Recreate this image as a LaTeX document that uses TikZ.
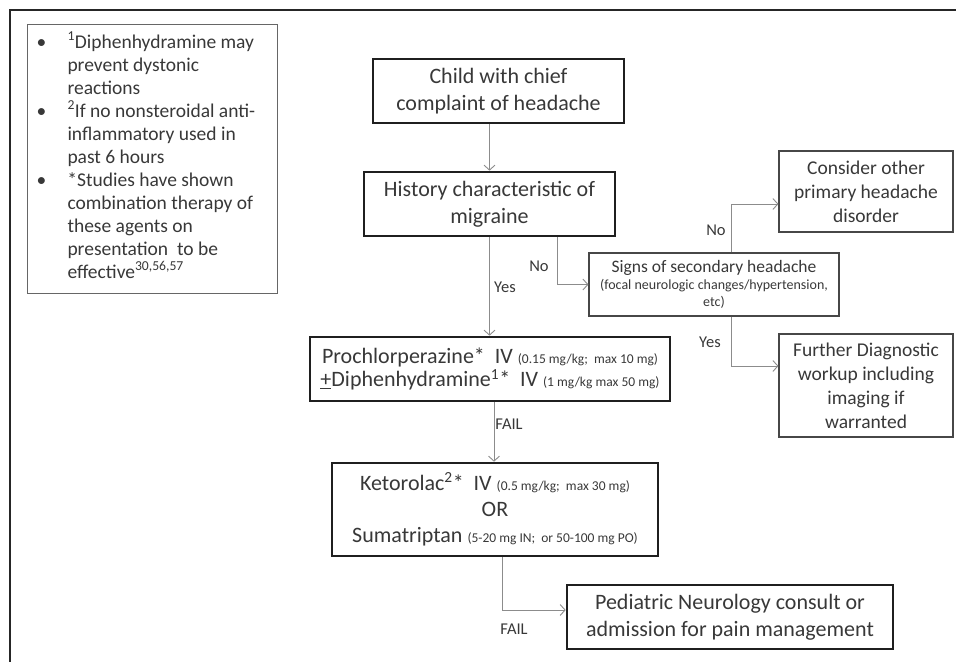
\documentclass[tikz,border=0pt]{standalone}
\usepackage{fontspec}
\setmainfont{Carlito}
\usetikzlibrary{arrows.meta}

\newcommand{\dose}[1]{{\fontsize{13.5}{15}\selectfont #1}}

\begin{document}
\begin{tikzpicture}
[x=1pt, y=-1pt, font=\fontsize{22}{27}\selectfont, text=black!78,
mainbox/.style={draw=black!88, line width=2.6pt, align=center, inner sep=0pt},
sidebox/.style={draw=black!72, line width=1.1pt, align=center, inner sep=0pt},
flow/.style={draw=black!45, line width=0.9pt, -{Straight Barb[length=5pt, width=11pt]}},
answer/.style={font=\fontsize{16.5}{18}\selectfont, inner sep=0pt}
]

\useasboundingbox (0,0) rectangle (956,662);

% frame
\draw[black!85, line width=1.6pt] (956,10) -- (10,10) -- (10,662);

% notes
\node[draw=black!60, line width=1pt, minimum width=250pt, minimum height=269pt,
  inner sep=0pt, font=\fontsize{19.5}{23}\selectfont] (notes) at (152,158.5)
{\begin{tabular}{@{}p{14pt}@{\hspace{17pt}}p{200pt}@{}}
\textbullet & \textsuperscript{1}Diphenhydramine may\newline prevent dystonic\newline reactions\\
\textbullet & \textsuperscript{2}If no nonsteroidal anti-\newline inflammatory used in\newline past 6 hours\\
\textbullet & *Studies have shown\newline combination therapy of\newline these agents on\newline presentation~ to be\newline effective\textsuperscript{30,56,57}\\
\end{tabular}};

% main flow
\node[mainbox, minimum width=251pt, minimum height=64pt] (child) at (498.5,91)
  {Child with chief\\complaint of headache};
\node[mainbox, minimum width=251pt, minimum height=64pt] (hist) at (489.5,204)
  {History characteristic of\\migraine};
\node[mainbox, minimum width=360pt, minimum height=64pt] (proc) at (490,369)
  {Prochlorperazine*~~IV \dose{(0.15 mg/kg;~~max 10 mg)}\\[-4pt]
   \underline{+}Diphenhydramine\textsuperscript{1}*~~IV \dose{(1 mg/kg max 50 mg)}};
\node[mainbox, minimum width=326pt, minimum height=93pt] (keto) at (495,509.5)
  {Ketorolac\textsuperscript{2}*~~IV \dose{(0.5 mg/kg;~~max 30 mg)}\\[-1pt]
   OR\\[-1pt]
   Sumatriptan \dose{(5-20 mg IN;~~or 50-100 mg PO)}};
\node[mainbox, minimum width=326pt, minimum height=64pt] (ped) at (730,617)
  {Pediatric Neurology consult or\\admission for pain management};

% side branch
\node[sidebox, minimum width=250pt, minimum height=63pt, font=\fontsize{14}{17}\selectfont] (signs) at (714,284.5)
  {{\fontsize{17.5}{20}\selectfont Signs of secondary headache}\\
   (focal neurologic changes/hypertension,\\ etc)};
\node[sidebox, minimum width=174pt, minimum height=81pt, font=\fontsize{19.5}{24}\selectfont] (cons) at (866,191.5)
  {Consider other\\primary headache\\disorder};
\node[sidebox, minimum width=174pt, minimum height=103pt, font=\fontsize{19.5}{24}\selectfont] (furt) at (866,385.5)
  {Further Diagnostic\\workup including\\imaging if\\warranted};

% connectors
\draw[flow] (hist.north |- child.south) -- (hist.north);
\draw[flow] (hist.south) -- (hist.south |- proc.north);
\draw[flow] ([xshift=67.5pt]hist.south) |- (signs.west);
\draw[flow] ([xshift=17pt]signs.north) |- ([yshift=-12.5pt]cons.west);
\draw[flow] ([xshift=17pt]signs.south) |- ([yshift=19.5pt]furt.west);
\draw[flow] ([xshift=4pt]proc.south) -- ([xshift=4pt]proc.south |- keto.north);
\draw[flow] ([xshift=7pt]keto.south) |- ([yshift=7pt]ped.west);

% answers
\node[answer] (no1) at (539,266) {No};
\node[answer] (yes1) at (505,287) {Yes};
\node[answer] (no2) at (716,230) {No};
\node[answer] (yes2) at (710,342) {Yes};
\node[answer] (fail1) at (509,424) {FAIL};
\node[answer] (fail2) at (514,629) {FAIL};

\end{tikzpicture}
\end{document}
